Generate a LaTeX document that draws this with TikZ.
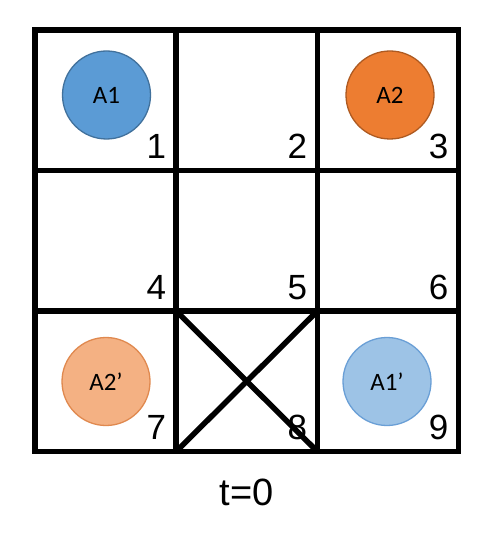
\documentclass[tikz,border=0pt]{standalone}
\usepackage{fontspec}
\usetikzlibrary{calc}
\setmainfont{Liberation Sans}
\newfontfamily\calfont{Carlito}
\definecolor{bA}{HTML}{5B9BD5}
\definecolor{bAd}{HTML}{41719C}
\definecolor{oA}{HTML}{ED7D31}
\definecolor{oAd}{HTML}{AE5A21}
\definecolor{oL}{HTML}{F4B183}
\definecolor{oLd}{HTML}{E0894F}
\definecolor{bL}{HTML}{9DC3E6}
\definecolor{bLd}{HTML}{6A9FD6}
\tikzset{
  cellbox/.style={draw, line width=5.5pt, minimum width=141.2pt, minimum height=140.5pt, inner sep=0pt, outer sep=0pt},
  num/.style={anchor=base east, inner sep=0pt, font=\fontsize{35}{35}\selectfont},
  agent/.style={circle, minimum size=88pt, inner sep=0pt, line width=1.3pt, font=\calfont\fontsize{25}{25}\selectfont},
  xline/.style={line width=5.5pt}
}
\begin{document}
\begin{tikzpicture}[x=1pt, y=-1pt]
\useasboundingbox[fill=white] (0,0) rectangle (493,534);
% cells
\foreach \r in {0,1,2}{
  \foreach \c in {0,1,2}{
    \pgfmathtruncatemacro{\k}{3*\r+\c+1}
    \node[cellbox] (c\k) at ({35+141.2*\c+70.6},{30+140.5*\r+70.25}) {};
  }
}
% blocked cell
\draw[xline] (c8.north west) -- (c8.south east);
\draw[xline] (c8.north east) -- (c8.south west);
% agents
\node[agent, fill=bA, draw=bAd] (a1) at (106.5,95) {A1};
\node[agent, fill=oA, draw=oAd] (a2) at (390,95) {A2};
\node[agent, fill=oL, draw=oLd] (a2p) at (106,381.5) {A2’};
\node[agent, fill=bL, draw=bLd] (a1p) at (387,381.5) {A1’};
% numbers
\foreach \k in {1,...,9}{
  \node[num] (n\k) at ($(c\k.south east)+(-10,-12)$) {\k};
}
% caption
\node[anchor=base, inner sep=0pt, font=\fontsize{38}{38}\selectfont] (cap) at (246.75,505) {t=0};
\end{tikzpicture}
\end{document}
